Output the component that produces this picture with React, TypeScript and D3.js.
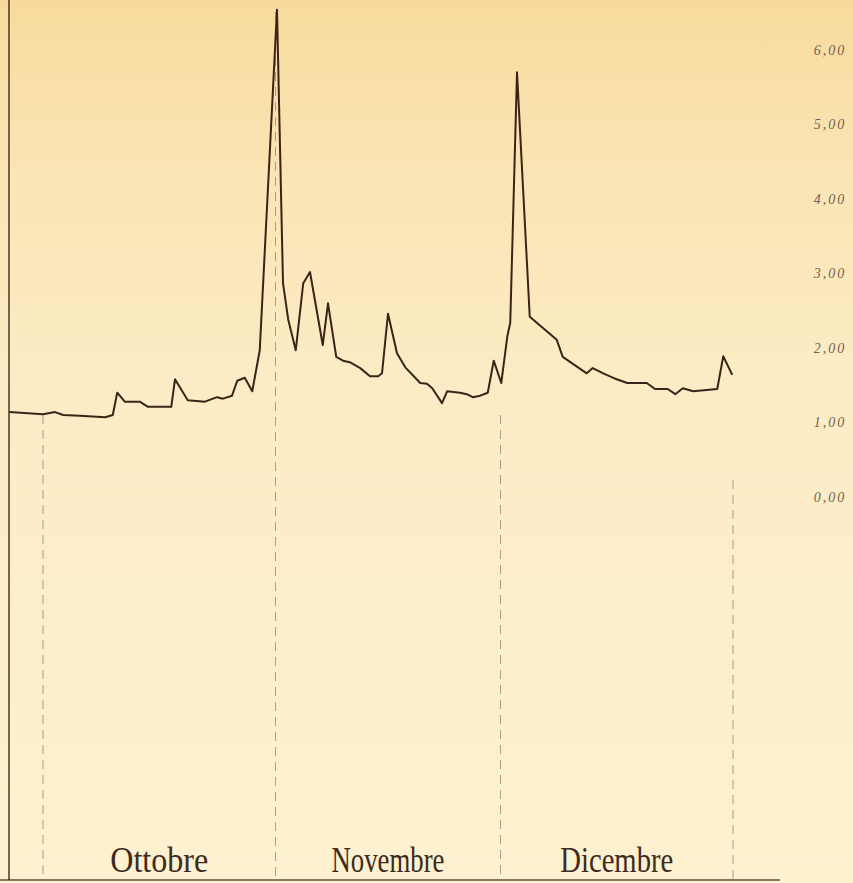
import React from "react";
import * as d3 from "d3";

// Days counted from 1 October (0 = start of Oct 1); levels in metres
const days: number[] = [
  -4.5, 0, 1.6, 2.7, 4.9, 8.3, 9.3, 9.9, 10.9, 12.9, 14, 17.1, 17.6, 19.3, 21.6, 23.2, 24, 25.2, 25.9,
  26.9, 27.9, 28.9, 31.2, 32, 32.7, 33.7, 34.7, 35.6, 37.3, 38, 39.1, 40, 40.9, 42.3, 43.6, 44.7,
  45.2, 46, 47.2, 48.3, 50.3, 51.2, 51.9, 53.2, 53.9, 55.6, 56.5, 57.3, 58.3, 59.3, 60.1, 61.1,
  61.9, 62.3, 63.2, 64.9, 68.5, 69.3, 72.5, 73.3, 74.7, 76.5, 77.9, 80.5, 81.6, 83.3, 84.3, 85.3,
  86.7, 89.9, 90.7, 91.9,
];
const levels: number[] = [
  1.14, 1.11, 1.14, 1.1, 1.09, 1.07, 1.1, 1.4, 1.28, 1.28, 1.21, 1.21, 1.58, 1.3, 1.28, 1.34, 1.32,
  1.36, 1.56, 1.6, 1.42, 1.97, 6.54, 2.87, 2.38, 1.97, 2.87, 3.02, 2.04, 2.6, 1.88, 1.83, 1.81,
  1.73, 1.62, 1.62, 1.66, 2.46, 1.93, 1.74, 1.53, 1.52, 1.46, 1.26, 1.42, 1.4, 1.38, 1.34, 1.36,
  1.4, 1.83, 1.53, 2.15, 2.34, 5.7, 2.42, 2.11, 1.88, 1.66, 1.73, 1.66, 1.58, 1.53, 1.53, 1.45,
  1.45, 1.38, 1.46, 1.42, 1.45, 1.89, 1.64,
];
const months: string[] = ["Ottobre", "Novembre", "Dicembre"];
const monthBounds: number[] = [0, 31, 61, 92];
const tickValues: number[] = [0, 1, 2, 3, 4, 5, 6];
const tickLabels: string[] = ["0,00", "1,00", "2,00", "3,00", "4,00", "5,00", "6,00"];

const W = 853;
const H = 883;

export default function App() {
  const x = d3.scaleLinear().domain([0, 92]).range([43, 733]);
  const y = d3.scaleLinear().domain([0, 6]).range([497, 50]);
  const pts: [number, number][] = days.map((d, i) => [d, levels[i]]);
  const line = d3
    .line<[number, number]>()
    .x((p) => x(p[0]))
    .y((p) => y(p[1]))
    .curve(d3.curveLinear);
  const gridTops = [415, 12, 415, 480];
  const baseY = 880;
  const ink = "#3b2417";
  const grid = "#8d7b68";

  return (
    <svg
      width={W}
      height={H}
      style={{ position: "absolute", left: 0, top: 0, display: "block" }}
    >
      <defs>
        <linearGradient id="bg" x1="0" y1="0" x2="0" y2="1">
          <stop offset="0" stopColor="#f8da9c" />
          <stop offset="0.18" stopColor="#fae4b3" />
          <stop offset="0.45" stopColor="#fcecc6" />
          <stop offset="1" stopColor="#fdf1cf" />
        </linearGradient>
      </defs>
      <rect x={0} y={0} width={W} height={H} fill="url(#bg)" />

      {/* month separators */}
      {monthBounds.map((b, i) => (
        <line
          key={"g" + i}
          x1={x(b)}
          x2={x(b)}
          y1={gridTops[i]}
          y2={baseY}
          stroke={grid}
          strokeWidth={1}
          strokeDasharray="9,6"
          opacity={0.7}
        />
      ))}

      {/* left axis */}
      <line x1={9} x2={9} y1={0} y2={baseY} stroke={ink} strokeWidth={1.6} opacity={0.85} />
      {/* bottom axis */}
      <line x1={0} x2={780} y1={baseY} y2={baseY} stroke={ink} strokeWidth={1.6} opacity={0.8} />

      {/* right tick labels */}
      {tickValues.map((v, i) => (
        <text
          key={"t" + i}
          x={830}
          y={y(v)}
          dy="0.35em"
          textAnchor="middle"
          fontFamily="Liberation Serif"
          fontStyle="italic"
          fontSize={14}
          letterSpacing={2}
          fill="#75624f"
        >
          {tickLabels[i]}
        </text>
      ))}

      {/* data line */}
      <path
        d={line(pts) || ""}
        fill="none"
        stroke={ink}
        strokeWidth={2}
        strokeLinejoin="round"
      />

      {/* month labels */}
      {months.map((m, i) => (
        <text
          key={"m" + i}
          x={(x(monthBounds[i]) + x(monthBounds[i + 1])) / 2}
          y={872}
          textAnchor="middle"
          fontFamily="Liberation Serif"
          fontSize={36}
          fill="#3e2a1e"
          textLength={i === 0 ? 98 : 113}
          lengthAdjust="spacingAndGlyphs"
        >
          {m}
        </text>
      ))}
    </svg>
  );
}
